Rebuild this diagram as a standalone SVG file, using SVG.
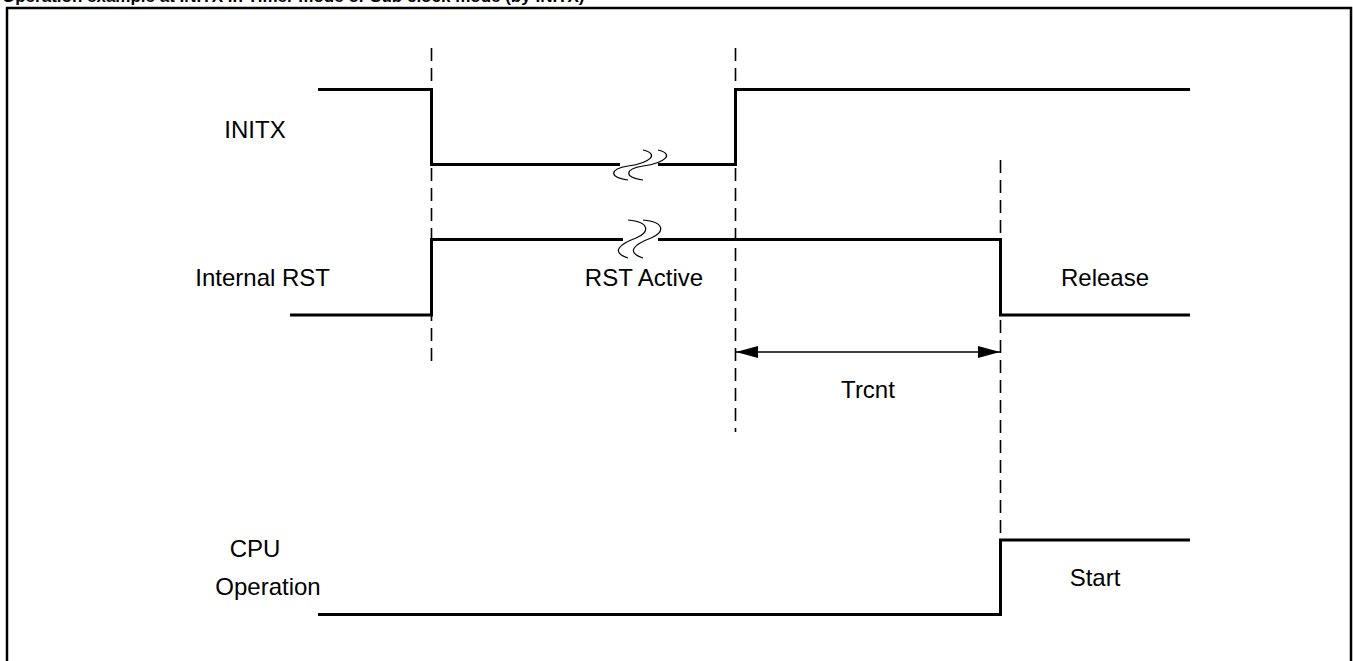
<svg xmlns="http://www.w3.org/2000/svg" width="1353" height="661" viewBox="0 0 1353 661">
<style>
.sig{fill:none;stroke:#000;stroke-width:3;stroke-linejoin:miter}
.dash{fill:none;stroke:#000;stroke-width:1.6;stroke-dasharray:13 7}
.brk{fill:none;stroke:#000;stroke-width:1.2}
.lbl{font-family:"Liberation Sans",Arial,sans-serif;font-size:24px;fill:#000}
.ttl{font-family:"Liberation Sans",Arial,sans-serif;font-size:17px;font-weight:bold;fill:#000}
</style>
<defs>
<marker id="ah" viewBox="0 0 22 12" refX="22" refY="6" markerWidth="22" markerHeight="12" markerUnits="userSpaceOnUse" orient="auto-start-reverse">
<path d="M0,0 L22,6 L0,12 Z" fill="#000"/>
</marker>
</defs>
<rect width="1353" height="661" fill="#fff"/>
<text class="ttl" x="2" y="2">Operation example at INITX in Timer mode or Sub clock mode (by INITX)</text>
<rect x="7" y="8" width="1344" height="700" fill="none" stroke="#000" stroke-width="2.5"/>

<g id="connectors">
<line class="dash" x1="431.5" y1="48" x2="431.5" y2="362"/>
<line class="dash" x1="735.5" y1="48" x2="735.5" y2="432"/>
<line class="dash" x1="1000.5" y1="160" x2="1000.5" y2="540"/>
<line x1="736" y1="352" x2="1000" y2="352" stroke="#000" stroke-width="1.6" marker-start="url(#ah)" marker-end="url(#ah)"/>
</g>

<g id="initx">
<text class="lbl" x="255" y="138" text-anchor="middle">INITX</text>
<polyline class="sig" points="318,89.5 431.5,89.5 431.5,164.5 620,164.5"/>
<polyline class="sig" points="658,164.5 735.5,164.5 735.5,89.5 1190,89.5"/>
<path class="brk" d="M643,150 C660,154 650,163 628,166 C610,169 608,177 628,180"/>
<path class="brk" d="M658,150 C675,154 665,163 643,166 C625,169 623,177 643,180"/>
</g>

<g id="internal-rst">
<text class="lbl" x="330" y="286" text-anchor="end" font-size="25">Internal RST</text>
<text class="lbl" x="644" y="286" text-anchor="middle">RST Active</text>
<text class="lbl" x="1105" y="286" text-anchor="middle">Release</text>
<polyline class="sig" points="290,315 431.5,315 431.5,239.5 623,239.5"/>
<polyline class="sig" points="658,239.5 1000.5,239.5 1000.5,315 1190,315"/>
<path class="brk" d="M628,220 C650,222 650,232 636,238 C620,244 610,252 628,258"/>
<path class="brk" d="M643,220 C665,222 665,232 651,238 C635,244 625,252 643,258"/>
</g>

<g id="trcnt">
<text class="lbl" x="868" y="398" text-anchor="middle">Trcnt</text>
</g>

<g id="cpu-operation">
<text class="lbl" x="255" y="557" text-anchor="middle">CPU</text>
<text class="lbl" x="268" y="595" text-anchor="middle">Operation</text>
<text class="lbl" x="1095" y="586" text-anchor="middle">Start</text>
<polyline class="sig" points="318,614.5 1000.5,614.5 1000.5,540 1190,540"/>
</g>
</svg>
